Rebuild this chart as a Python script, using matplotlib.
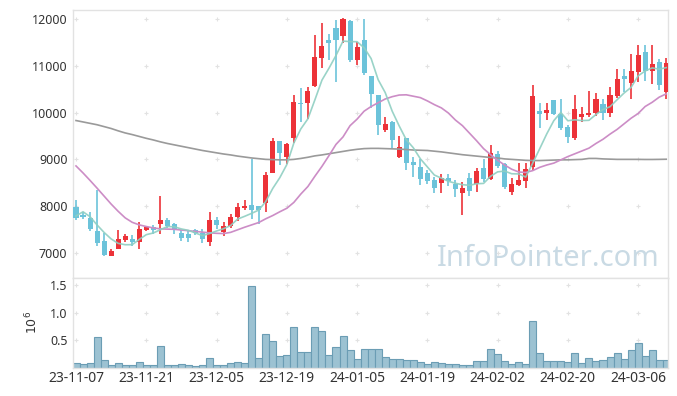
"""
Daily candles with 5/20/120-day moving averages and volume panel
"""
import numpy as np
import pandas as pd
import matplotlib
matplotlib.use('Agg')
import matplotlib.pyplot as plt

plt.rcParams['font.family'] = ['Noto Sans', 'DejaVu Sans']

# ---------------------------------------------------------------------------
# data
# ---------------------------------------------------------------------------
opens = [7976, 7811, 7754, 7470, 7250, 6945, 7090, 7280, 7300, 7240,
         7500, 7550, 7620, 7700, 7610, 7420, 7400, 7480, 7430, 7240,
         7700, 7455, 7580, 7760, 7955, 8020, 8000, 8075, 8705, 9390,
         9060, 9450, 10210, 10200, 10575, 11175, 11550, 11800, 11645, 11955,
         11125, 11550, 10780, 10375, 9630, 9805, 9060, 9450, 8950, 8840,
         8700, 8560, 8490, 8595, 8475, 8290, 8595, 8465, 8810, 8580,
         9110, 8900, 8310, 8455, 8545, 8830, 10035, 9985, 10270, 9965,
         9700, 9450, 9915, 9950, 9985, 10185, 9985, 10360, 10780, 10640,
         10875, 11300, 10895, 11090, 10447]
highs = [8132, 7882, 7880, 8350, 7420, 7080, 7490, 7400, 7380, 7670,
         7580, 7600, 8210, 7740, 7650, 7490, 7460, 7520, 7520, 7870,
         7760, 7660, 7830, 8070, 8140, 9000, 8010, 8720, 9460, 9400,
         9360, 10375, 10520, 10550, 11660, 11920, 11680, 11980, 12030, 11980,
         11500, 11990, 10790, 10380, 9900, 9810, 9490, 9460, 9060, 9010,
         8770, 8620, 8680, 8680, 8560, 8520, 8700, 8810, 9000, 9310,
         9170, 8930, 8595, 8920, 8915, 10590, 10210, 10210, 10275, 10285,
         9735, 10370, 10125, 10460, 10425, 10285, 10555, 10925, 10925, 11245,
         11445, 11450, 11445, 11140, 11160]
lows = [7705, 7720, 7470, 7140, 6945, 6930, 7080, 7240, 7150, 7080,
        7470, 7400, 7400, 7530, 7400, 7260, 7240, 7380, 7210, 7140,
        7520, 7370, 7530, 7690, 7920, 7720, 7620, 7870, 8700, 8880,
        8900, 9340, 9800, 9860, 10540, 10950, 11125, 10660, 11480, 11090,
        11020, 10800, 10100, 9530, 9590, 9240, 9030, 8780, 8620, 8450,
        8480, 8280, 8290, 8430, 8190, 7810, 8225, 8310, 8520, 8560,
        8810, 8360, 8240, 8430, 8380, 8770, 9665, 9840, 9940, 9630,
        9345, 9415, 9805, 9900, 9925, 9845, 9900, 10305, 10440, 10285,
        10660, 10680, 10610, 10485, 10285]
closes = [7741, 7775, 7505, 7220, 6950, 7050, 7300, 7360, 7225, 7510,
          7560, 7480, 7700, 7575, 7480, 7330, 7330, 7420, 7290, 7705,
          7600, 7575, 7760, 7980, 8000, 7920, 7920, 8665, 9390, 9145,
          9320, 10220, 10185, 10460, 11180, 11420, 11495, 11550, 11995, 11125,
          11410, 10855, 10390, 9735, 9755, 9415, 9270, 8925, 8880, 8580,
          8545, 8395, 8595, 8545, 8365, 8395, 8330, 8760, 8580, 9130,
          8865, 8415, 8475, 8560, 8795, 10355, 9965, 10055, 9970, 9665,
          9470, 10070, 9970, 10000, 10285, 10000, 10375, 10710, 10720, 10890,
          11230, 10895, 11040, 10585, 11055]
# closes of the four sessions before the window (needed for the 5-day MA)
prior_closes = [7325, 8030, 8105, 7750]

volume = [85000, 67000, 85000, 558000, 145000, 50000, 85000, 50000, 50000, 103000,
          50000, 50000, 394000, 50000, 50000, 67000, 50000, 30000, 50000, 176000,
          50000, 50000, 85000, 103000, 85000, 1485000, 176000, 612000, 485000, 212000,
          230000, 739000, 285000, 285000, 739000, 667000, 230000, 376000, 576000, 321000,
          158000, 339000, 339000, 339000, 194000, 158000, 158000, 139000, 139000, 103000,
          67000, 103000, 85000, 67000, 67000, 50000, 50000, 121000, 121000, 339000,
          248000, 121000, 67000, 103000, 67000, 848000, 267000, 121000, 121000, 121000,
          103000, 267000, 85000, 176000, 121000, 139000, 194000, 267000, 158000, 321000,
          448000, 212000, 321000, 139000, 139000]

ma20 = [8860, 8710, 8550, 8385, 8215, 8045, 7890, 7750, 7655, 7600,
        7565, 7535, 7515, 7510, 7505, 7490, 7476, 7460, 7445, 7430,
        7420, 7415, 7440, 7495, 7550, 7600, 7650, 7730, 7800, 7880,
        7955, 8080, 8260, 8420, 8640, 8850, 9080, 9320, 9480, 9720,
        9860, 10030, 10130, 10210, 10290, 10340, 10375, 10380, 10350, 10320,
        10250, 10170, 10100, 9990, 9840, 9720, 9560, 9400, 9230, 9100,
        8980, 8880, 8790, 8730, 8720, 8760, 8830, 8880, 8920, 8990,
        9060, 9120, 9180, 9240, 9340, 9430, 9540, 9640, 9760, 9880,
        9980, 10130, 10220, 10330, 10400]
ma120 = [9830, 9800, 9770, 9740, 9700, 9660, 9610, 9565, 9530, 9490,
         9450, 9415, 9375, 9340, 9310, 9280, 9250, 9220, 9190, 9165,
         9140, 9115, 9095, 9070, 9050, 9030, 9015, 9000, 8995, 8990,
         8990, 9000, 9020, 9045, 9075, 9095, 9120, 9145, 9170, 9195,
         9215, 9230, 9235, 9235, 9230, 9225, 9220, 9210, 9200, 9195,
         9190, 9175, 9160, 9140, 9120, 9100, 9085, 9070, 9055, 9040,
         9030, 9010, 9000, 8990, 8980, 8975, 8975, 8980, 8985, 8990,
         8990, 8995, 9000, 9020, 9020, 9010, 9005, 9000, 9000, 9000,
         9000, 8998, 8998, 9000, 9003]

tick_labels = ['23-11-07', '23-11-21', '23-12-05', '23-12-19', '24-01-05',
               '24-01-19', '24-02-02', '24-02-20', '24-03-06']
price_ticks = [7000, 8000, 9000, 10000, 11000, 12000]
vol_ticks = [0.5, 1.0, 1.5]

# ---------------------------------------------------------------------------
# derived
# ---------------------------------------------------------------------------
n = len(closes)
x = np.arange(n)
o = np.array(opens, dtype=float)
c = np.array(closes, dtype=float)
ma5 = pd.Series(prior_closes + closes).rolling(5).mean().to_numpy()[len(prior_closes):]
tick_pos = np.arange(len(tick_labels)) * 10

UP = '#ec3238'
DOWN = '#6cc3da'
GRID = '#e2e2e2'
SPINE = '#e2e2e2'
TXT = '#333333'

fig = plt.figure(figsize=(6.77, 3.96), dpi=100)
ax = fig.add_axes([0.1078, 0.298, 0.8789, 0.6767])
axv = fig.add_axes([0.1078, 0.0707, 0.8789, 0.2273], sharex=ax)

# candles
up = c >= o
colors = np.where(up, UP, DOWN)
body_lo = np.minimum(o, c)
body_h = np.maximum(np.abs(c - o), 14)
ax.vlines(x, lows, highs, colors=colors, linewidth=1.2, zorder=2)
ax.bar(x, body_h, bottom=body_lo, width=0.72, color=colors, linewidth=0, zorder=3)

# moving averages
ax.plot(x, ma120, color='#9a9a9a', lw=1.2, zorder=4)
ax.plot(x, ma20, color='#cc8dc6', lw=1.2, zorder=4)
ax.plot(x, ma5, color='#8fcfc2', lw=1.2, alpha=0.9, zorder=4)

ax.set_ylim(6465, 12192)
ax.set_yticks(price_ticks)
ax.set_yticklabels([str(v) for v in price_ticks])

# watermark
ax.text(0.9866, 0.045, 'InfoPointer.com', transform=ax.transAxes,
        ha='right', va='baseline', fontsize=21, color='#c9dae4', zorder=1)

# volume
axv.bar(x, np.array(volume) / 1e6, width=1.0, color='#9cc2d2',
        edgecolor='#6b9db4', linewidth=0.8, zorder=2)
axv.set_ylim(0, 1.636)
axv.set_yticks(vol_ticks)
axv.set_yticklabels(['0.5', '1.0', '1.5'])
axv.text(-0.069, 0.51, '$10^6$', transform=axv.transAxes, rotation=90,
         ha='center', va='center', fontsize=9, color=TXT)

axv.set_xlim(-0.43, 84.25)
axv.set_xticks(tick_pos)
axv.set_xticklabels(tick_labels)

# small cross markers at grid intersections
gx, gy = np.meshgrid(tick_pos, price_ticks)
ax.plot(gx.ravel(), gy.ravel(), '+', color=GRID, ms=3.5, mew=0.8, zorder=0)
gx, gy = np.meshgrid(tick_pos, vol_ticks)
axv.plot(gx.ravel(), gy.ravel(), '+', color=GRID, ms=3.5, mew=0.8, zorder=0)

for a in (ax, axv):
    a.tick_params(length=0, labelsize=9, colors=TXT, pad=4)
    for spine in a.spines.values():
        spine.set_color(SPINE)
        spine.set_linewidth(1.0)
ax.tick_params(labelbottom=False)
axv.tick_params(axis='x', pad=2, labelsize=10)

plt.savefig('out.png', dpi=100, facecolor='white')
plt.close()
